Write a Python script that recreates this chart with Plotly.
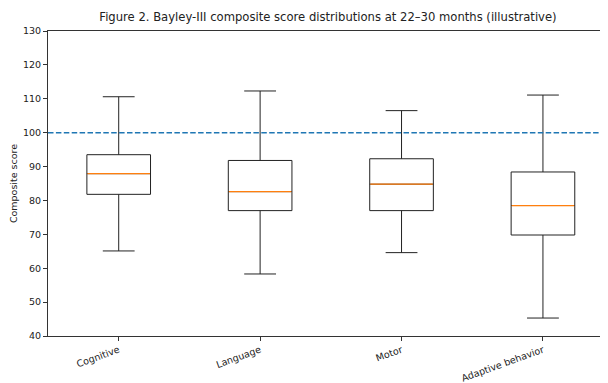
import plotly.graph_objects as go

categories = ["Cognitive", "Language", "Motor", "Adaptive behavior"]
positions = [1, 2, 3, 4]
lower_whisker = [65.1, 58.3, 64.6, 45.3]
q1 = [81.8, 77.0, 77.0, 69.8]
median = [87.9, 82.6, 84.8, 78.5]
q3 = [93.5, 91.8, 92.3, 88.4]
upper_whisker = [110.6, 112.3, 106.5, 111.1]
reference_value = 100
y_ticks = [40, 50, 60, 70, 80, 90, 100, 110, 120, 130]

box_w = 0.45
font_family = "DejaVu Sans"

fig = go.Figure()
fig.add_trace(go.Box(
    x=positions, q1=q1, median=median, q3=q3,
    lowerfence=lower_whisker, upperfence=upper_whisker,
    width=box_w, whiskerwidth=0.5,
    line=dict(color="#222222", width=1), fillcolor="rgba(0,0,0,0)",
    boxpoints=False, showlegend=False, hoverinfo="skip",
))
for p, m in zip(positions, median):
    fig.add_trace(go.Scatter(
        x=[p - box_w / 2 + 0.004, p + box_w / 2 - 0.004], y=[m, m], mode="lines",
        line=dict(color="#ff7f0e", width=1.3), showlegend=False, hoverinfo="skip",
    ))

fig.add_shape(type="line", xref="paper", yref="y", x0=0, x1=1,
              y0=reference_value, y1=reference_value,
              line=dict(color="#1f77b4", width=1.5, dash="5.5px,2.4px"))

# the page body has an 8px margin, so the figure is offset by 8px
fig.update_layout(
    width=600, height=375,
    margin=dict(l=40, r=0, t=23, b=47),
    paper_bgcolor="white", plot_bgcolor="white",
    font=dict(family=font_family, size=10, color="#222222"),
    title=dict(text="Figure 2. Bayley-III composite score distributions at 22–30 months (illustrative)",
               x=0.5, xref="paper", xanchor="center", y=1, yref="container", yanchor="top",
               pad=dict(t=5), font=dict(size=11.6, family=font_family, color="#222222")),
    xaxis=dict(range=[0.5, 4.46], tickvals=positions, ticktext=categories, tickangle=-20,
               showline=True, linecolor="#333333", linewidth=1, mirror=True,
               ticks="outside", ticklen=4, tickcolor="#333333", showgrid=False, zeroline=False,
               tickfont=dict(size=9.5), automargin=False),
    yaxis=dict(range=[40, 130], tickvals=y_ticks, showline=True, linecolor="#333333", linewidth=1,
               ticks="outside", ticklen=4, tickcolor="#333333", showgrid=False, zeroline=False,
               title=dict(text="Composite score", font=dict(size=9.5), standoff=8),
               tickfont=dict(size=9.5), automargin=False),
)

fig.write_html("out.html")
